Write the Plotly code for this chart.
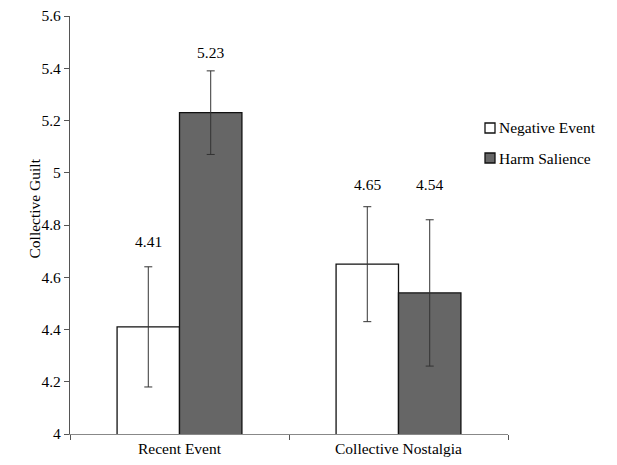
import plotly.graph_objects as go

categories = ["Recent Event", "Collective Nostalgia"]
series_names = ["Negative Event", "Harm Salience"]
negative_event = [4.41, 4.65]
harm_salience = [5.23, 4.54]
negative_err = [0.23, 0.22]
harm_err = [0.16, 0.28]
y_ticks = [4, 4.2, 4.4, 4.6, 4.8, 5, 5.2, 5.4, 5.6]

# Times-like serif requested first; falls back to a sans of similar width
FONT = "Liberation Serif, Times New Roman, Liberation Sans, Arial, sans-serif"
FS = 15.5
fills = ["#ffffff", "#666666"]

fig = go.Figure()
for name, vals, errs, fill in [
    (series_names[0], negative_event, negative_err, fills[0]),
    (series_names[1], harm_salience, harm_err, fills[1]),
]:
    fig.add_trace(go.Bar(
        x=categories, y=vals, name=name,
        marker=dict(color=fill, line=dict(color="#111111", width=1.3)),
        error_y=dict(type="data", array=errs, visible=True,
                     color="#333333", thickness=1, width=4),
        showlegend=False,
    ))

# value labels above error bars
label_shift = [[25, 22], [18, 35]]
for si, (vals, errs) in enumerate([(negative_event, negative_err), (harm_salience, harm_err)]):
    for ci, cat in enumerate(categories):
        fig.add_annotation(
            x=cat, y=vals[ci] + errs[ci], xref="x", yref="y",
            text=f"{vals[ci]:.2f}", showarrow=False,
            xshift=(-31 if si == 0 else 31), yshift=label_shift[si][ci],
            font=dict(family=FONT, size=FS, color="#000000"),
        )

# manual legend
W, H = 617, 465
ml, mr, mt, mb = 70, 109, 16, 31
pw, ph = W - ml - mr, H - mt - mb
def px_x(p): return (p - ml) / pw
def px_y(p): return (H - mb - p) / ph
for i, (name, fill) in enumerate(zip(series_names, fills)):
    cy = 128 + 30 * i
    fig.add_shape(type="rect", xref="paper", yref="paper",
                  x0=px_x(485), x1=px_x(495), y0=px_y(cy + 5), y1=px_y(cy - 5),
                  fillcolor=fill, line=dict(color="#111111", width=1.3))
    fig.add_annotation(x=px_x(497), y=px_y(cy), xref="paper", yref="paper",
                       text=name, showarrow=False, xanchor="left", yanchor="middle",
                       font=dict(family=FONT, size=FS, color="#000000"))

# y axis title
fig.add_annotation(x=px_x(23), y=px_y(209), xref="paper", yref="paper",
                   text="Collective Guilt", showarrow=False, textangle=-90,
                   font=dict(family=FONT, size=FS, color="#000000"))

fig.update_layout(
    width=W, height=H,
    margin=dict(l=ml, r=mr, t=mt, b=mb, pad=0, autoexpand=False),
    paper_bgcolor="white", plot_bgcolor="white",
    barmode="group", bargap=0.43, bargroupgap=0,
    font=dict(family=FONT, size=FS, color="#000000"),
)
fig.update_xaxes(
    type="category", showline=True, linecolor="#888888", linewidth=1.3,
    ticks="outside", tickson="boundaries", ticklen=5, tickcolor="#555555",
    showgrid=False, zeroline=False, automargin=False,
    tickfont=dict(family=FONT, size=FS, color="#000000"),
)
fig.update_yaxes(
    range=[4, 5.6], tickvals=y_ticks, ticktext=[f"{v:g}" for v in y_ticks],
    showline=True, linecolor="#555555", linewidth=1.3,
    ticks="outside", ticklen=5, tickcolor="#555555",
    showgrid=False, zeroline=False, automargin=False,
    tickfont=dict(family=FONT, size=FS, color="#000000"),
)

fig.write_html("out.html")
